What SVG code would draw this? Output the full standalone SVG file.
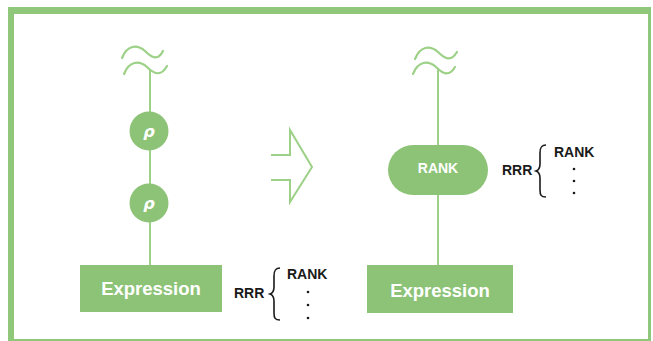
<svg xmlns="http://www.w3.org/2000/svg" width="653" height="341" viewBox="0 0 653 341">
<style>
.frame{fill:#8fc87a}
.ln{fill:none;stroke:#9cd187;stroke-width:2}
.wave{fill:none;stroke:#9cd187;stroke-width:2.2;stroke-linecap:round}
.node{fill:#8dc377}
.wt{fill:#ffffff;font-family:"Liberation Sans",Arial,sans-serif;font-weight:bold;text-anchor:middle}
.bk{fill:#1a1a1a;font-family:"Liberation Sans",Arial,sans-serif;font-weight:bold;font-size:14px}
.brace{fill:none;stroke:#1a1a1a;stroke-width:1.6}
.dot{fill:#1a1a1a}
.rho{fill:#ffffff;font-family:"DejaVu Sans",sans-serif;font-weight:bold;font-style:italic;text-anchor:middle}
</style>
<rect x="0" y="0" width="653" height="341" fill="#ffffff"/>
<g id="frame">
<rect class="frame" x="8" y="7" width="642" height="7"/>
<rect class="frame" x="8" y="7" width="6" height="334"/>
<rect class="frame" x="648" y="7" width="3" height="334"/>
<rect class="frame" x="8" y="339" width="643" height="2"/>
</g>
<g id="connectors">
<path class="wave" d="M122,58 C127,45 137,44 145,51 C152,58 158,61 163,51"/>
<path class="wave" d="M124,74 C129,61 139,60 147,67 C154,74 161,77 167,66"/>
<line class="ln" x1="150" y1="70" x2="150" y2="265"/>
<path class="wave" d="M415,59 C420,46 430,45 438,52 C445,59 451,62 457,52"/>
<path class="wave" d="M413,74 C418,61 428,60 436,67 C443,74 449,77 455,67"/>
<line class="ln" x1="438" y1="70" x2="438" y2="265"/>
<path class="ln" d="M271,155 L290,155 L290,130 L312,167 L290,202 L290,180 L271,180"/>
</g>
<g id="rho1">
<circle class="node" cx="149" cy="131" r="19.5"/>
<text class="rho" x="149" y="137" font-size="16">ρ</text>
</g>
<g id="rho2">
<circle class="node" cx="149" cy="203" r="19.5"/>
<text class="rho" x="149" y="209" font-size="16">ρ</text>
</g>
<g id="expr1">
<rect class="node" x="80" y="265" width="142" height="47"/>
<text class="wt" x="151" y="295" font-size="18.5">Expression</text>
</g>
<g id="rrr1">
<text class="bk" x="234" y="298">RRR</text>
<path class="brace" d="M280,268 C275,268 274,271 274,276 L274,287 C274,291 273,293 270,294 C273,295 274,297 274,301 L274,313 C274,318 275,320 280,320"/>
<text class="bk" x="287" y="279">RANK</text>
<circle class="dot" cx="308" cy="292" r="1.3"/>
<circle class="dot" cx="308" cy="305" r="1.3"/>
<circle class="dot" cx="308" cy="318" r="1.3"/>
</g>
<g id="rank">
<rect class="node" x="388" y="145" width="100" height="50" rx="25"/>
<text class="wt" x="438" y="173" font-size="14">RANK</text>
</g>
<g id="expr2">
<rect class="node" x="367" y="265" width="146" height="48"/>
<text class="wt" x="440" y="297" font-size="18.5">Expression</text>
</g>
<g id="rrr2">
<text class="bk" x="502" y="175">RRR</text>
<path class="brace" d="M546,145 C541,145 540,148 540,153 L540,164 C540,168 539,170 536,171 C539,172 540,174 540,178 L540,190 C540,195 541,197 546,197"/>
<text class="bk" x="554" y="157">RANK</text>
<circle class="dot" cx="574" cy="169" r="1.3"/>
<circle class="dot" cx="574" cy="181" r="1.3"/>
<circle class="dot" cx="574" cy="193" r="1.3"/>
</g>
</svg>
